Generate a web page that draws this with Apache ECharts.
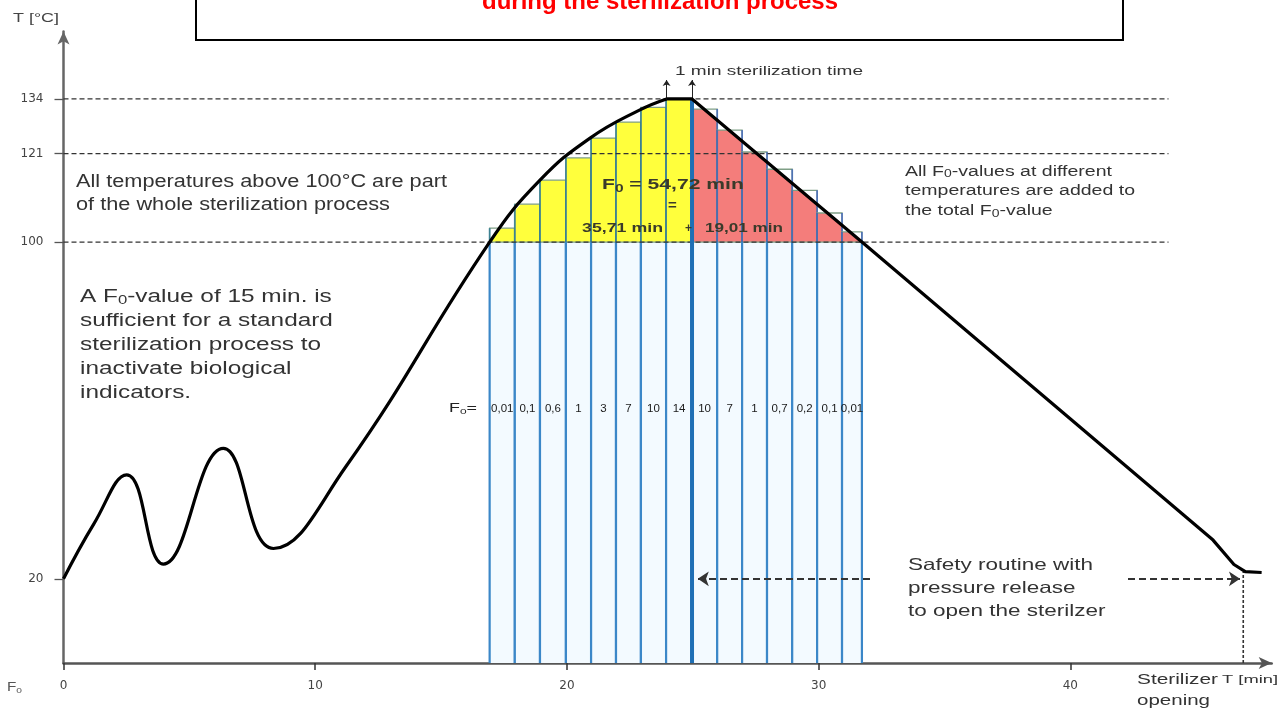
<!DOCTYPE html>
<html>
<head>
<meta charset="utf-8">
<script src="https://cdn.jsdelivr.net/npm/echarts@6/dist/echarts.min.js"></script>
<style>html,body{margin:0;padding:0;background:#fff;}#c{width:1288px;height:709px;}</style>
</head>
<body>
<div id="c"></div>
<script>
// ---------- data ----------
const xTickValues = [0, 10, 20, 30, 40];
const yTickValues = [20, 100, 121, 134];
const referenceLevels = [100, 121, 134];
const referenceLineEnd = 43.9;
// chamber temperature curve (minute, °C)
const curveRise = [[0,20],[1.2,33],[2.51,44.7],[3.97,23.5],[6.35,51],[8.34,27.2],[11.2,46.5],[16.93,100],[18.93,114.7],[20.92,124.7],[22.9,131.4],[23.96,134]];
const curveFall = [[23.96,134],[24.97,134],[31.72,100],[45.67,29.2],[46.5,23.4],[46.95,21.7],[47.6,21.5]];
// one-minute F0 columns
const colEdges = [16.93,17.93,18.93,19.96,20.96,21.95,22.94,23.94,24.97,25.97,26.96,27.95,28.95,29.94,30.93,31.72];
const colTops = [103.3,109,114.7,120,124.7,128.5,132,134,131.6,126.6,121.4,117.3,112.3,106.9,102.4];
const f0Labels = ['0,01','0,1','0,6','1','3','7','10','14','10','7','1','0,7','0,2','0,1','0,01'];
const holdStart = 23.96, holdEnd = 24.97, holdTemp = 134, markerTop = 138.5;
const openingTime = 46.87, openingTemp = 21.6;
const safetyArrows = [[[32.04,20],[25.2,20]], [[42.29,20],[46.74,20]]];

// ---------- helpers ----------
const allCurve = curveRise.concat(curveFall.slice(1));
function curveAt(x){
  for (let i=0;i<allCurve.length-1;i++){
    const a=allCurve[i], b=allCurve[i+1];
    if (x>=a[0] && x<=b[0]) { return a[1]+(b[1]-a[1])*(x-a[0])/((b[0]-a[0])||1); }
  }
  return 0;
}
const FONT = '"Liberation Sans", Arial, sans-serif';
const mctx = document.createElement('canvas').getContext('2d');
function measure(line, size, weight){
  const parts = line.split(/(\{s\|[^}]*\})/);
  let w = 0;
  parts.forEach(p=>{
    const m = p.match(/^\{s\|([^}]*)\}$/);
    if (m){ mctx.font = weight+' '+Math.round(size*0.65)+'px '+FONT; w += mctx.measureText(m[1]).width; }
    else { mctx.font = weight+' '+size+'px '+FONT; w += mctx.measureText(p).width; }
  });
  return w;
}
function txt(o){
  const weight = o.bold ? 'bold' : 'normal';
  const L = o.L || Math.round(o.size*1.25);
  const ref = o.lines[o.refLine||0];
  const sx = o.width ? o.width / measure(ref, o.size, weight) : 1;
  return {
    type:'text', x:o.x, y:o.cy - L/2, scaleX:sx, z:50,
    style:{
      text:o.lines.join('\n'), fill:o.color||'#333', font: weight+' '+o.size+'px '+FONT,
      lineHeight:L, verticalAlign:'top', align:o.align||'left',
      rich:{ s:{ fontSize:Math.round(o.size*0.7), fontWeight:weight, fontFamily:FONT, fill:o.color||'#333', lineHeight:L, padding:[Math.round(o.size*0.45),0,0,0] } }
    }
  };
}

// ---------- columns ----------
function renderColumn(params, api){
  const i = params.dataIndex;
  const x0 = api.value(0), x1 = api.value(1), top = api.value(2), side = api.value(3);
  const b0 = api.coord([x0,0]), b1 = api.coord([x1,0]);
  const y100 = api.coord([x0,100])[1];
  const yTop = api.coord([x0,top])[1];
  const fill = side === 0 ? '#ffff3c' : '#f47d7b';
  const pts = [[b0[0], y100]];
  const N = 12;
  for (let k=0;k<=N;k++){
    const x = x0+(x1-x0)*k/N;
    const v = Math.max(100, Math.min(top, curveAt(x)));
    pts.push(api.coord([x, v]));
  }
  pts.push([b1[0], y100]);
  const lblY = api.coord([x0, 60.3])[1];
  const upperStroke = side === 0 ? 'rgba(40,120,150,0.75)' : 'rgba(50,90,190,0.7)';
  return {
    type:'group',
    children:[
      {type:'rect', shape:{x:b0[0], y:y100, width:b1[0]-b0[0], height:b0[1]-y100}, style:{fill:'#f3faff'}},
      {type:'polygon', shape:{points:pts}, style:{fill:fill}},
      {type:'rect', shape:{x:b0[0], y:yTop, width:b1[0]-b0[0], height:y100-yTop}, style:{fill:'none', stroke:'#7f9f86', lineWidth:1.3}},
      {type:'line', shape:{x1:b0[0], y1:b0[1], x2:b0[0], y2:y100}, style:{stroke:'#3b87c8', lineWidth:2.2}},
      {type:'line', shape:{x1:b1[0], y1:b1[1], x2:b1[0], y2:y100}, style:{stroke:'#3b87c8', lineWidth:2.2}},
      {type:'line', shape:{x1:b0[0], y1:y100, x2:b0[0], y2:yTop}, style:{stroke:upperStroke, lineWidth:1.8}},
      {type:'line', shape:{x1:b1[0], y1:y100, x2:b1[0], y2:yTop}, style:{stroke:upperStroke, lineWidth:1.8}},
      {type:'text', x:(b0[0]+b1[0])/2, y:lblY, style:{text:f0Labels[i], fill:'#1a1a1a', font:'11.5px '+FONT, align:'center', verticalAlign:'middle'}}
    ]
  };
}

const series = [];
series.push({
  type:'custom', renderItem:renderColumn, z:2, silent:true,
  encode:{x:[0,1], y:2},
  data: colTops.map((t,i)=>[colEdges[i], colEdges[i+1], t, i<8?0:1])
});
referenceLevels.forEach(lv=>{
  series.push({type:'line', data:[[0,lv],[referenceLineEnd,lv]], symbol:'none', z:3, silent:true,
    lineStyle:{color:'#333', width:1.3, type:[5,3]}});
});
series.push({type:'line', data:[[holdEnd,0],[holdEnd,holdTemp]], symbol:'none', z:4, silent:true,
  lineStyle:{color:'#1f6fb5', width:4}});
series.push({type:'line', data:curveRise, smooth:0.45, symbol:'none', z:10, silent:true,
  lineStyle:{color:'#000', width:3.2}});
series.push({type:'line', data:curveFall, symbol:'none', z:10, silent:true,
  lineStyle:{color:'#000', width:3.2, join:'round'}});
series.push({type:'lines', coordinateSystem:'cartesian2d', z:9, silent:true,
  symbol:['none','arrow'], symbolSize:6,
  lineStyle:{color:'#222', width:1, opacity:1},
  data:[{coords:[[holdStart,holdTemp],[holdStart,markerTop]]},{coords:[[holdEnd,holdTemp],[holdEnd,markerTop]]}]});
series.push({type:'lines', coordinateSystem:'cartesian2d', z:9, silent:true,
  symbol:['none','arrow'], symbolSize:11,
  lineStyle:{color:'#333', width:2, type:[7,4], opacity:1},
  data: safetyArrows.map(a=>({coords:a}))});
series.push({type:'line', data:[[openingTime,0],[openingTime,openingTemp]], symbol:'none', z:9, silent:true,
  lineStyle:{color:'#333', width:1.6, type:[3,2]}});

const graphics = [
  {type:'rect', shape:{x:196, y:-5, width:927, height:45}, style:{fill:'#fff', stroke:'#000', lineWidth:2}, z:40},
  {type:'text', x:660, y:2, z:41, style:{text:'during the sterilization process', fill:'#ff0000', font:'bold 24px '+FONT, align:'center', verticalAlign:'middle'}},
  txt({lines:['All temperatures above 100°C are part','of the whole sterilization process'], x:76, cy:182, L:23.3, size:17.5, width:371}),
  txt({lines:['A F{s|0}-value of 15 min. is','sufficient for a standard','sterilization process to','inactivate biological','indicators.'], x:80, cy:296.7, L:24.2, size:17.5, width:251}),
  txt({lines:['All F{s|0}-values at different','temperatures are added to','the total F{s|0}-value'], x:905, cy:171.7, L:19.6, size:14, width:230, refLine:1}),
  txt({lines:['Safety routine with','pressure release','to open the sterilzer'], x:908, cy:565, L:23.3, size:16.5, width:185}),
  txt({lines:['1 min sterilization time'], x:675, cy:71.7, size:13.5, width:188}),
  txt({lines:['F{s|0} = 54,72 min'], x:602, cy:185, size:15, bold:true, width:141, color:'#3a3a2a'}),
  txt({lines:['='], x:668, cy:206, size:15, bold:true, color:'#3a3a2a'}),
  txt({lines:['35,71 min'], x:582, cy:228.3, size:12, bold:true, width:81, color:'#3a3a2a'}),
  txt({lines:['+'], x:685, cy:228.3, size:12, bold:true, color:'#3a3a2a'}),
  txt({lines:['19,01 min'], x:705, cy:229, size:12, bold:true, width:78, color:'#3a3a2a'}),
  txt({lines:['F{s|0}='], x:449, cy:409, size:12, width:28, color:'#222'}),
  txt({lines:['T [°C]'], x:13, cy:18.3, size:12, width:46, color:'#444'}),
  txt({lines:['F{s|0}'], x:7, cy:688, size:12, width:15, color:'#555'}),
  txt({lines:['Sterilizer'], x:1137, cy:680, size:14, width:81, color:'#333'}),
  txt({lines:['T [min]'], x:1222, cy:680, size:11, width:56, color:'#333'}),
  txt({lines:['opening'], x:1137, cy:701, size:14, width:73, color:'#333'})
];

const option = {
  animation:false,
  backgroundColor:'#fff',
  grid:{left:63.5, right:16.3, top:31.6, bottom:46},
  xAxis:{type:'value', min:0, max:48,
    axisLine:{show:true, lineStyle:{color:'#555', width:2.5}, symbol:['none','arrow'], symbolSize:[9,13]},
    axisTick:{show:true, customValues:xTickValues, length:7, lineStyle:{color:'#333', width:1.5}},
    axisLabel:{customValues:xTickValues, margin:17, color:'#444', fontFamily:'DejaVu Sans', fontSize:12},
    splitLine:{show:false}},
  yAxis:{type:'value', min:0, max:150,
    axisLine:{show:true, lineStyle:{color:'#666', width:2.5}, symbol:['none','arrow'], symbolSize:[9,13]},
    axisTick:{show:true, customValues:yTickValues, length:9, lineStyle:{color:'#555', width:1.3}},
    axisLabel:{customValues:yTickValues, margin:20, color:'#444', fontFamily:'DejaVu Sans', fontSize:12},
    splitLine:{show:false}},
  series:series,
  graphic:graphics
};
const chart = echarts.init(document.getElementById('c'), null, {renderer:'canvas'});
chart.setOption(option);
</script>
</body>
</html>
